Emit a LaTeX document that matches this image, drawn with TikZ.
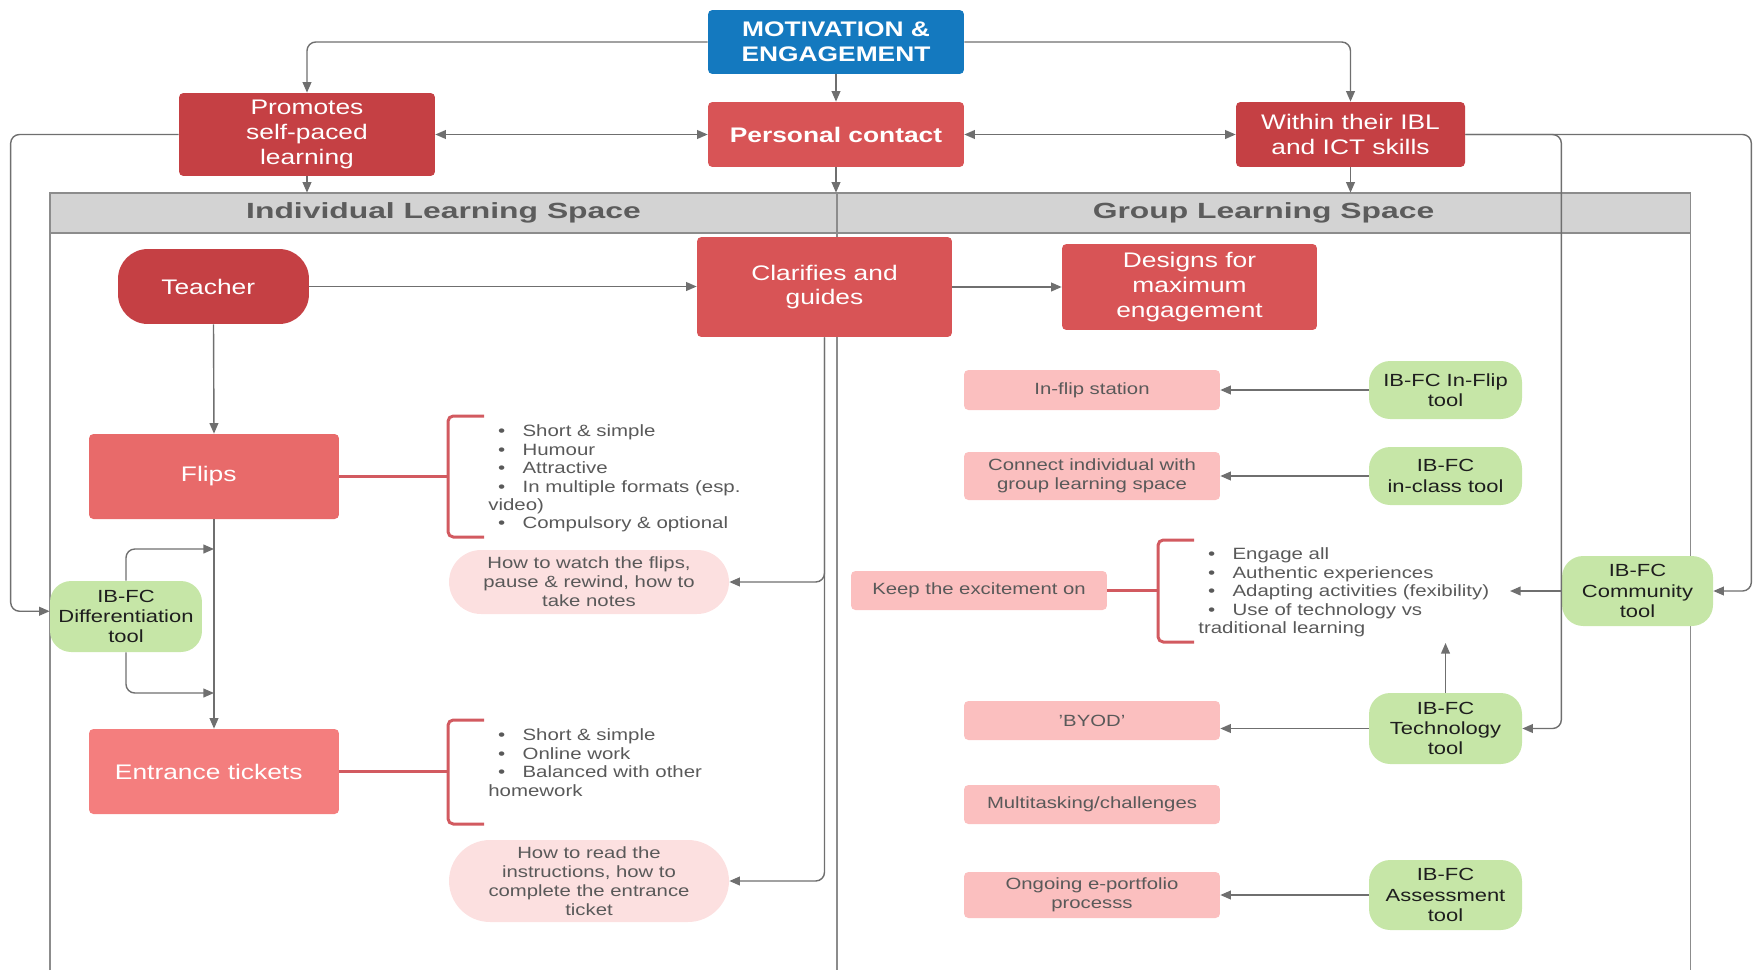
\documentclass[tikz,border=0pt]{standalone}
\usepackage{fontspec}
\setmainfont{Liberation Sans}[FakeStretch=1.25]
\newfontfamily\headfont{Liberation Sans}[FakeStretch=1.45]
\usetikzlibrary{arrows.meta,shapes.misc}
\definecolor{motivblue}{HTML}{1479BF}
\definecolor{darkred}{HTML}{C54044}
\definecolor{midred}{HTML}{D85456}
\definecolor{flipsred}{HTML}{E86A6A}
\definecolor{ticketred}{HTML}{F47E7E}
\definecolor{notepink}{HTML}{FBBFBF}
\definecolor{pillpink}{HTML}{FCE0E0}
\definecolor{toolgreen}{HTML}{C6E6A7}
\definecolor{brkred}{HTML}{D25A60}
\definecolor{linegray}{HTML}{6F6F6F}
\definecolor{framegray}{HTML}{8C8C8C}
\definecolor{headgray}{HTML}{D3D3D3}
\definecolor{headtext}{HTML}{5C5C5C}
\definecolor{notetext}{HTML}{595959}
\definecolor{tooltext}{HTML}{1E1E1E}
\newcommand\bul{\makebox[19.5pt][l]{\hspace{5.5pt}\textbullet}}

\begin{document}
\begin{tikzpicture}[x=0.02cm, y=-0.02cm,
  box/.style={rectangle, rounded corners=2.5pt, text=white, align=center, inner sep=0pt, minimum width=5.12cm, font=\fontsize{12}{14}\selectfont},
  tool/.style={rectangle, rounded corners=12pt, fill=toolgreen, text=tooltext, align=center, inner sep=0pt, minimum width=3.06cm, font=\fontsize{10}{11.5}\selectfont},
  note/.style={rectangle, rounded corners=2.5pt, fill=notepink, text=notetext, align=center, inner sep=0pt, minimum width=5.12cm, font=\fontsize{9.25}{10.8}\selectfont},
  pill/.style={rounded rectangle, fill=pillpink, text=notetext, align=center, inner sep=0pt, minimum width=5.6cm, font=\fontsize{9.25}{10.8}\selectfont},
  lst/.style={anchor=north west, align=left, inner sep=0pt, text=notetext, font=\fontsize{9.3}{10.5}\selectfont},
  head/.style={text=headtext, font=\headfont\fontsize{12.5}{14}\selectfont\bfseries},
  frame/.style={draw=framegray, line width=0.6pt},
  ln/.style={draw=linegray, line width=0.8pt, rounded corners=5pt},
  arr/.style={ln, -{Triangle[length=6pt,width=5pt]}},
  darr/.style={ln, {Triangle[length=6pt,width=5pt]}-{Triangle[length=6pt,width=5pt]}},
  brk/.style={draw=brkred, line width=1.7pt, rounded corners=3pt}]
\useasboundingbox (0,0) rectangle (1753,970);

\node[rectangle, fill=headgray, inner sep=0pt, minimum width=32.8cm, minimum height=0.8cm] (band) at (870,213) {};
\draw[frame] (50,970) -- (50,193) -- (1690,193) -- (1690,970);
\draw[frame] (50,233) -- (1690,233);
\draw[frame] (837,193) -- (837,970);
\node[head] (indiv) at (443.5,213) {Individual Learning Space};
\node[head] (group) at (1263.5,213) {Group Learning Space};

\node[box, fill=motivblue, minimum height=1.28cm, font=\fontsize{12}{14}\selectfont\bfseries] (motiv) at (836,42) {MOTIVATION \&\\ENGAGEMENT};
\node[box, fill=darkred, minimum height=1.66cm] (promotes) at (307,134.5) {Promotes\\self-paced\\learning};
\node[box, fill=midred, minimum height=1.3cm, font=\fontsize{12}{14}\selectfont\bfseries] (personal) at (836,134.5) {Personal contact};
\node[box, fill=darkred, minimum width=4.58cm, minimum height=1.3cm] (within) at (1350.5,134.5) {Within their IBL\\and ICT skills};

\node[box, fill=darkred, rounded corners=17pt, minimum width=3.82cm, minimum height=1.5cm] (teacher) at (213.5,286.5) {Teacher\hspace*{6pt}};
\node[box, fill=midred, minimum width=5.1cm, minimum height=2cm] (clarifies) at (824.5,287) {Clarifies and\\guides};
\node[box, fill=midred, minimum width=5.1cm, minimum height=1.72cm] (designs) at (1189.5,287) {Designs for\\maximum\\engagement};

\node[box, fill=flipsred, minimum width=5cm, minimum height=1.7cm] (flips) at (214,476.5) {Flips\hspace*{6pt}};
\node[box, fill=ticketred, minimum width=5cm, minimum height=1.7cm] (tickets) at (214,771.5) {Entrance tickets\hspace*{6pt}};
\node[tool, minimum width=3.04cm, minimum height=1.42cm] (diff) at (126,616.5) {IB-FC\\Differentiation\\tool};
\node[pill, minimum height=1.28cm] (watch) at (589,582) {How to watch the flips,\\pause \& rewind, how to\\take notes};
\node[pill, minimum height=1.64cm] (read) at (589,881) {How to read the\\instructions, how to\\complete the entrance\\ticket};

\node[lst] (flipslist) at (488,424.5) {\bul Short \& simple\\\bul Humour\\\bul Attractive\\\bul In multiple formats (esp.\\video)\\\bul Compulsory \& optional};
\node[lst] (ticketlist) at (488,728.5) {\bul Short \& simple\\\bul Online work\\\bul Balanced with other\\homework};

\node[note, minimum height=0.8cm] (station) at (1092,390) {In-flip station};
\node[note, minimum height=0.96cm] (connect) at (1092,476) {Connect individual with\\group learning space};
\node[note, minimum height=0.78cm] (keep) at (979,590.5) {Keep the excitement on};
\node[note, minimum height=0.78cm] (byod) at (1092,720.5) {'BYOD'};
\node[note, minimum height=0.78cm] (multi) at (1092,804.5) {Multitasking/challenges};
\node[note, minimum height=0.92cm] (portfolio) at (1092,895) {Ongoing e-portfolio\\processs};
\node[lst] (keeplist) at (1198,547.5) {\bul Engage all\\\bul Authentic experiences\\\bul Adapting activities (fexibility)\\\bul Use of technology vs\\traditional learning};

\node[tool, minimum height=1.16cm] (inflip) at (1445.5,390) {IB-FC In-Flip\\tool};
\node[tool, minimum height=1.16cm] (inclass) at (1445.5,476) {IB-FC\\in-class tool};
\node[tool, minimum width=3.02cm, minimum height=1.4cm] (community) at (1637.5,591) {IB-FC\\Community\\tool};
\node[tool, minimum height=1.42cm] (tech) at (1445.5,728.5) {IB-FC\\Technology\\tool};
\node[tool, minimum height=1.4cm] (assess) at (1445.5,895) {IB-FC\\Assessment\\tool};

\coordinate (j1) at (214,549);
\coordinate (j2) at (214,693);
\coordinate (c1) at (1510,591);
\coordinate (c2) at (1445.5,643);

\draw[arr] (motiv.west) -| (promotes.north);
\draw[arr] (motiv.south) -- (personal.north);
\draw[arr] (motiv.east) -| (within.north);
\draw[darr] (promotes.east) -- (personal.west);
\draw[darr] (personal.east) -- (within.west);
\draw[arr] (promotes.south) -- (promotes.south|-band.north);
\draw[arr] (personal.south) -- (personal.south|-band.north);
\draw[arr] (within.south) -- (within.south|-band.north);
\draw[arr] (promotes.west) -- ++(-168,0) |- ([yshift=3pt]diff.west);
\draw[arr] (within.east) -- ++(96,0) |- (tech.east);
\draw[arr] (within.east) -- ++(286,0) |- (community.east);

\draw[arr] (teacher.east) -- (teacher.east-|clarifies.west);
\draw[arr] (clarifies.east) -- (designs.west);
\draw[arr] (teacher.south) -- (flips.north);
\draw[arr] (flips.south) -- (tickets.north);
\draw[arr] (diff.north) |- (j1);
\draw[arr] (diff.south) |- (j2);
\draw[arr] (clarifies.south) |- (watch.east);
\draw[arr] (clarifies.south) |- (read.east);

\draw[brk] (flips.east) -- (448,476.5);
\draw[brk] (484,416) -- (448,416) -- (448,537) -- (484,537);
\draw[brk] (tickets.east) -- (448,771.5);
\draw[brk] (484,720) -- (448,720) -- (448,824) -- (484,824);
\draw[brk] (keep.east) -- (1158,590.5);
\draw[brk] (1194,540) -- (1158,540) -- (1158,642) -- (1194,642);

\draw[arr] (inflip.west) -- (station.east);
\draw[arr] (inclass.west) -- (connect.east);
\draw[arr] (community.west) -- (c1);
\draw[arr] (tech.north) -- (c2);
\draw[arr] (tech.west) -- (tech.west-|byod.east);
\draw[arr] (assess.west) -- (portfolio.east);
\end{tikzpicture}
\end{document}
